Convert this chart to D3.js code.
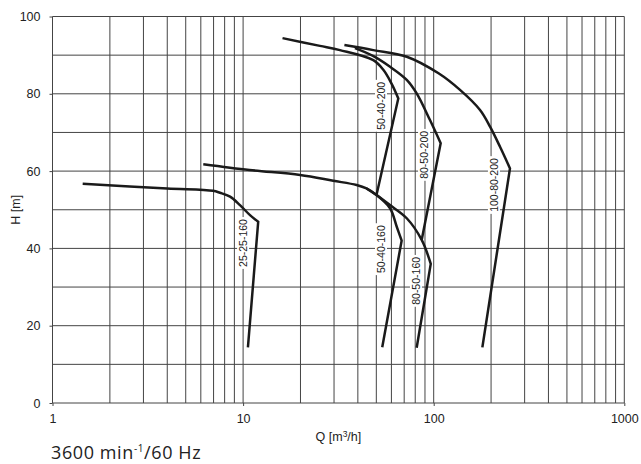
<!DOCTYPE html>
<html>
<head>
<meta charset="utf-8">
<script src="https://cdn.jsdelivr.net/npm/d3@7"></script>
<style>
body { margin: 0; background: #fff; }
svg { display: block; }
</style>
</head>
<body>
<div id="chart"></div>
<script>
// pump curves, Q in m3/h and H in m
var pumpNames = ["25-25-160", "50-40-160", "80-50-160", "50-40-200", "80-50-200", "100-80-200"];
var pumpQ = [
    [1.44, 4.0, 6.95, 7.56, 8.54, 9.63, 10.87, 12.0, 10.6],
    [6.18, 10.8, 19.9, 29.7, 39.4, 44.4, 50.1, 59.0, 64.0, 67.9, 53.7],
    [44.4, 50.1, 59.0, 72.2, 86.5, 96.5, 81.4],
    [16.1, 25.3, 32.2, 48.2, 54.4, 60.0, 65.2, 50.1],
    [38.6, 48.0, 59.0, 72.2, 81.4, 95.6, 108.8, 86.5],
    [34.0, 48.2, 72.2, 106, 137.4, 175, 197.5, 222.8, 251.3, 180]
];
var pumpH = [
    [56.7, 55.5, 54.9, 54.4, 53.4, 51.2, 48.6, 46.9, 14.4],
    [61.8, 60.3, 59.0, 57.5, 56.4, 55.5, 53.8, 50.4, 45.6, 42.0, 14.4],
    [55.5, 53.8, 51.2, 47.8, 42.2, 36.0, 14.3],
    [94.4, 92.4, 91.3, 88.7, 86.2, 82.7, 78.8, 53.8],
    [91.8, 89.8, 87.0, 83.6, 80.1, 73.2, 67.2, 42.2],
    [92.6, 91.3, 89.6, 85.3, 81.0, 75.8, 71.5, 66.3, 60.7, 14.4]
];
// index of the point where the head curve turns into the straight limit line
var peakIndex = [7, 9, 5, 6, 6, 8];
var labelQ = [10, 52.9, 80.7, 52.9, 89, 207];
var labelH = [41.4, 39.8, 31.6, 76.9, 64.2, 56.4];

var xTicks = [1, 10, 100, 1000];
var yTicks = [0, 20, 40, 60, 80, 100];

var W = 641, H = 464;
var plotLeft = 52.5, plotRight = 624.3, plotTop = 16.5, plotBottom = 403;

var svg = d3.select("#chart").append("svg")
    .attr("width", W)
    .attr("height", H);

var x = d3.scaleLog().domain([1, 1000]).range([plotLeft, plotRight]);
var y = d3.scaleLinear().domain([0, 100]).range([plotBottom, plotTop]);

var gridColor = "#444";
var font = "'Liberation Sans', Arial, sans-serif";

// grid
svg.append("g").selectAll("line")
    .data(x.ticks())
    .enter().append("line")
    .attr("x1", function(d) { return x(d); })
    .attr("x2", function(d) { return x(d); })
    .attr("y1", plotTop)
    .attr("y2", plotBottom)
    .attr("stroke", gridColor)
    .attr("stroke-width", 1);

svg.append("g").selectAll("line")
    .data(d3.range(0, 101, 10))
    .enter().append("line")
    .attr("x1", plotLeft)
    .attr("x2", plotRight)
    .attr("y1", function(d) { return y(d); })
    .attr("y2", function(d) { return y(d); })
    .attr("stroke", gridColor)
    .attr("stroke-width", 1);

// axes
var xAxis = svg.append("g")
    .attr("transform", "translate(0," + plotBottom + ")")
    .call(d3.axisBottom(x).tickValues(xTicks).tickFormat(d3.format("d")).tickSize(3).tickPadding(8));
var yAxis = svg.append("g")
    .attr("transform", "translate(" + plotLeft + ",0)")
    .call(d3.axisLeft(y).tickValues(yTicks).tickSize(3).tickPadding(9));

[xAxis, yAxis].forEach(function(a) {
    a.select(".domain").remove();
    a.selectAll(".tick line").attr("stroke", gridColor);
    a.selectAll("text")
        .style("font-family", font)
        .style("font-size", "12.5px")
        .attr("fill", "#222");
});

// axis titles
svg.append("text")
    .attr("transform", "translate(20," + ((plotTop + plotBottom) / 2) + ") rotate(-90)")
    .attr("text-anchor", "middle")
    .style("font-family", font)
    .style("font-size", "12.5px")
    .attr("fill", "#222")
    .text("H [m]");

var qt = svg.append("text")
    .attr("x", (plotLeft + plotRight) / 2)
    .attr("y", 441)
    .attr("text-anchor", "middle")
    .style("font-family", font)
    .style("font-size", "12.5px")
    .attr("fill", "#222");
qt.append("tspan").text("Q [m");
qt.append("tspan").attr("dy", -4).style("font-size", "8.5px").text("3");
qt.append("tspan").attr("dy", 4).text("/h]");

// curve labels with a white box over the grid
var labels = svg.append("g");
pumpNames.forEach(function(name, i) {
    var g = labels.append("g")
        .attr("transform", "translate(" + x(labelQ[i]) + "," + y(labelH[i]) + ") rotate(-90)");
    var box = g.append("rect").attr("fill", "#fff");
    var t = g.append("text")
        .attr("text-anchor", "middle")
        .attr("dy", "0.35em")
        .style("font-family", font)
        .style("font-size", "10.5px")
        .attr("fill", "#222")
        .text(name);
    var len = t.node().getComputedTextLength();
    box.attr("x", -len / 2 - 2)
        .attr("y", -6)
        .attr("width", len + 4)
        .attr("height", 12);
});

// pump curves: smooth head curve, then a straight limit line
var headLine = d3.line()
    .x(function(d) { return x(d[0]); })
    .y(function(d) { return y(d[1]); })
    .curve(d3.curveCatmullRom.alpha(0.5));
var limitLine = d3.line()
    .x(function(d) { return x(d[0]); })
    .y(function(d) { return y(d[1]); });

pumpNames.forEach(function(name, i) {
    var pts = pumpQ[i].map(function(q, j) { return [q, pumpH[i][j]]; });
    var p = peakIndex[i];
    var path = headLine(pts.slice(0, p + 1)) + limitLine(pts.slice(p)).replace("M", "L");
    svg.append("path")
        .attr("d", path)
        .attr("fill", "none")
        .attr("stroke", "#1a1a1a")
        .attr("stroke-width", 2.5)
        .attr("stroke-linejoin", "miter");
});

// speed note
var note = svg.append("text")
    .attr("x", 51)
    .attr("y", 459)
    .style("font-family", "'Open Sans', sans-serif")
    .style("font-size", "18px")
    .style("letter-spacing", "0.6px")
    .attr("fill", "#222");
note.append("tspan").text("3600 min");
note.append("tspan").attr("dy", -7).style("font-size", "10px").text("-1");
note.append("tspan").attr("dy", 7).text("/60 Hz");
</script>
</body>
</html>
